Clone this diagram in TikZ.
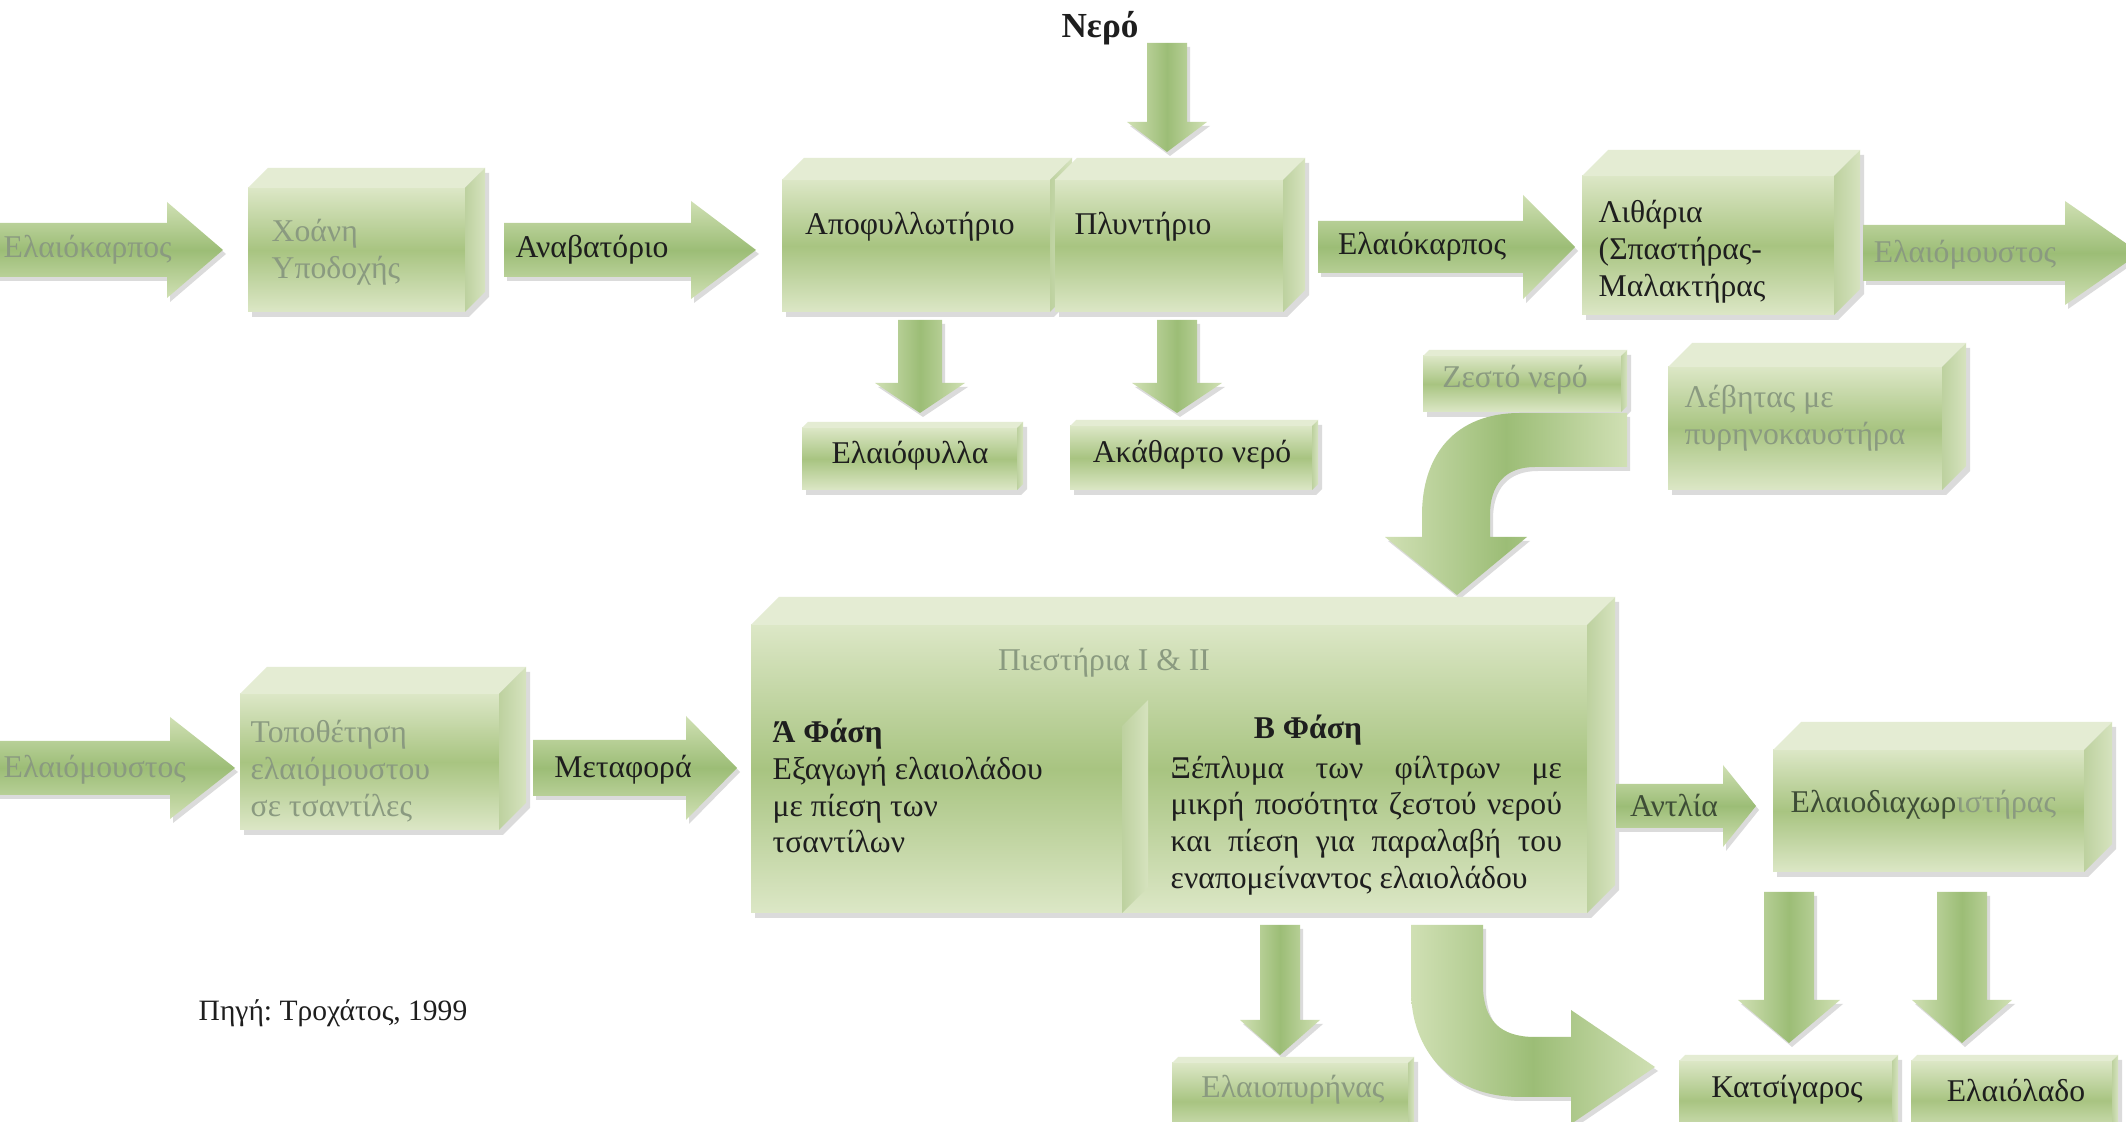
\documentclass[tikz,border=0pt]{standalone}
\usepackage{fontspec}
\setmainfont{Liberation Serif}
\frenchspacing
\definecolor{txtdark}{HTML}{1E1E1E}
\definecolor{txtfade}{HTML}{8A9A80}
\definecolor{txtmid}{HTML}{3E4D36}
\definecolor{gLight}{HTML}{DCE7C6}
\definecolor{gMid}{HTML}{A8C481}
\definecolor{gTop}{HTML}{E4ECD3}
\definecolor{gSide}{HTML}{BDD19F}
\definecolor{aLight}{HTML}{D0E0B4}
\definecolor{aMid}{HTML}{9CBD76}
\newcommand\lblsize{\fontsize{9pt}{10.5pt}\selectfont}
\newcommand\jline[1]{\hbox to 3.91cm{#1}}
\tikzset{
  frontface/.style={top color=gLight, bottom color=gLight, middle color=gMid},
  topface/.style={fill=gTop},
  sideface/.style={left color=gSide, right color=gLight!80!gSide},
  harrowfill/.style={top color=aLight, bottom color=aLight, middle color=aMid},
  varrowfill/.style={left color=aLight, right color=aLight, middle color=aMid},
  shadowfill/.style={fill=black!14},
  lbl/.style={font=\lblsize, text=txtdark, inner sep=0pt},
  fade/.style={lbl, text=txtfade},
}
% horizontal block arrow: x0, xh, x1, yc, shaft half, head half
\newcommand\hblk[6]{%
  \begin{scope}[shift={(3,4)}]
    \fill[shadowfill] (#1,{#4-#5}) -- (#2,{#4-#5}) -- (#2,{#4-#6}) -- (#3,#4) -- (#2,{#4+#6}) -- (#2,{#4+#5}) -- (#1,{#4+#5}) -- cycle;
  \end{scope}
  \shade[harrowfill] (#1,{#4-#5}) -- (#2,{#4-#5}) -- (#2,{#4-#6}) -- (#3,#4) -- (#2,{#4+#6}) -- (#2,{#4+#5}) -- (#1,{#4+#5}) -- cycle;}
% vertical block arrow: xc, y0, yh, y1, shaft half, head half
\newcommand\vblk[6]{%
  \begin{scope}[shift={(3,4)}]
    \fill[shadowfill] ({#1-#5},#2) -- ({#1+#5},#2) -- ({#1+#5},#3) -- ({#1+#6},#3) -- (#1,#4) -- ({#1-#6},#3) -- ({#1-#5},#3) -- cycle;
  \end{scope}
  \shade[varrowfill] ({#1-#5},#2) -- ({#1+#5},#2) -- ({#1+#5},#3) -- ({#1+#6},#3) -- (#1,#4) -- ({#1-#6},#3) -- ({#1-#5},#3) -- cycle;}
% cube box: x1, y1, x2, y2, depth
\newcommand\cubebox[5]{%
  \begin{scope}[shift={(4,5)}]
    \fill[shadowfill] (#1,{#2+#5}) -- ({#1+#5},#2) -- (#3,#2) -- (#3,{#4-#5}) -- ({#3-#5},#4) -- (#1,#4) -- cycle;
  \end{scope}
  \shade[frontface] (#1,{#2+#5}) rectangle ({#3-#5},#4);
  \fill[topface] (#1,{#2+#5}) -- ({#1+#5},#2) -- (#3,#2) -- ({#3-#5},{#2+#5}) -- cycle;
  \shade[sideface] ({#3-#5},{#2+#5}) -- (#3,#2) -- (#3,{#4-#5}) -- ({#3-#5},#4) -- cycle;}
\begin{document}
\begin{tikzpicture}[x=0.01cm, y=-0.01cm]
\useasboundingbox (0,0) rectangle (2126,1122);
\clip (0,0) rectangle (2126,1122);
\fill[white] (0,0) rectangle (2126,1122);

% ---------- top row ----------
\node[font=\fontsize{10pt}{12pt}\selectfont\bfseries, text=txtdark, inner sep=0pt] (nero) at (1100,28) {Νερό};
\vblk{1167}{43}{122}{152}{20}{40}

\hblk{-20}{167}{223}{250}{27}{48}
\node[fade, anchor=west] (elk1) at (3,250) {Ελαιόκαρπος};

\cubebox{248}{168}{485}{312}{20}
\node[fade, anchor=west, align=left] (xoani) at (271,252) {Χοάνη\\Υποδοχής};

\hblk{504}{691}{756}{250}{27}{49}
\node[lbl] (anab) at (592,250) {Αναβατόριο};

\cubebox{782}{158}{1072}{312}{22}
\cubebox{1055}{158}{1305}{312}{22}
\node[lbl] (apof) at (910,227) {Αποφυλλωτήριο};
\node[lbl] (plyn) at (1143,227) {Πλυντήριο};

\vblk{920}{320}{383}{413}{22}{45}
\vblk{1177}{320}{383}{413}{20}{45}
\cubebox{802}{422}{1023}{490}{6}
\node[lbl] (fyll) at (910,456) {Ελαιόφυλλα};
\cubebox{1070}{420}{1318}{490}{6}
\node[lbl] (akath) at (1192,455) {Ακάθαρτο νερό};

\hblk{1318}{1523}{1575}{247}{26}{52}
\node[lbl] (elk2) at (1422,247) {Ελαιόκαρπος};

\cubebox{1582}{150}{1860}{315}{26}
\node[lbl, anchor=west, align=left] (lith) at (1598,252) {Λιθάρια\\(Σπαστήρας-\\Μαλακτήρας};

\hblk{1863}{2065}{2140}{253}{28}{52}
\node[fade] (elm1) at (1965,255) {Ελαιόμουστος};

\cubebox{1423}{350}{1627}{412}{6}
\node[fade] (zesto) at (1515,380) {Ζεστό νερό};
\begin{scope}[shift={(3,4)}]
\fill[shadowfill] (1627,413) -- (1520,413) .. controls (1455,413) and (1422,455) .. (1422,515) -- (1422,537) -- (1385,537) -- (1457,595) -- (1527,537) -- (1490,537) -- (1490,515) .. controls (1490,485) and (1505,467) .. (1535,467) -- (1627,467) -- cycle;
\end{scope}
\shade[varrowfill] (1627,413) -- (1520,413) .. controls (1455,413) and (1422,455) .. (1422,515) -- (1422,537) -- (1385,537) -- (1457,595) -- (1527,537) -- (1490,537) -- (1490,515) .. controls (1490,485) and (1505,467) .. (1535,467) -- (1627,467) -- cycle;

\cubebox{1668}{343}{1966}{490}{24}
\node[fade, anchor=west, align=left] (lev) at (1684,418) {Λέβητας με\\πυρηνοκαυστήρα};

% ---------- middle row ----------
\hblk{-20}{170}{235}{768}{27}{51}
\node[fade, anchor=west] (elm2) at (3,770) {Ελαιόμουστος};

\cubebox{240}{667}{526}{830}{27}
\node[fade, anchor=west, align=left] (topo) at (250,771) {Τοποθέτηση\\ελαιόμουστου\\σε τσαντίλες};

\hblk{533}{686}{737}{768}{28}{52}
\node[lbl] (metaf) at (623,770) {Μεταφορά};

\cubebox{751}{597}{1615}{913}{28}
\shade[sideface] (1122,726) -- (1148,700) -- (1148,887) -- (1122,913) -- cycle;
\node[fade] (piest) at (1104,663) {Πιεστήρια I \& II};
\node[lbl, anchor=north west, align=left] (afasi) at (772,718) {\textbf{Ά Φάση}\\Εξαγωγή ελαιολάδου\\με πίεση των\\τσαντίλων};
\node[lbl, font=\lblsize\bfseries] (bfasi) at (1308,730) {Β Φάση};
\node[lbl, anchor=north west, align=left] (btext) at (1170,755) {\jline{Ξέπλυμα\hfill των\hfill φίλτρων\hfill με}\\\jline{μικρή\hfill ποσότητα\hfill ζεστού\hfill νερού}\\\jline{και\hfill πίεση\hfill για\hfill παραλαβή\hfill του}\\εναπομείναντος ελαιολάδου};

\hblk{1616}{1723}{1756}{806}{22}{41}
\node[lbl, text=txtmid] (antl) at (1674,806) {Αντλία};

\cubebox{1773}{722}{2112}{872}{28}
\node[lbl, anchor=west] (diax) at (1790,805) {\textcolor{txtmid}{Ελαιοδιαχωρ}\textcolor{txtfade}{ιστήρας}};

% ---------- bottom row ----------
\vblk{1280}{925}{1020}{1055}{20}{40}
\cubebox{1172}{1057}{1414}{1140}{6}
\node[fade] (pyr) at (1293,1090) {Ελαιοπυρήνας};

\begin{scope}[shift={(3,4)}]
\fill[shadowfill] (1411,925) -- (1483,925) -- (1483,985) .. controls (1483,1020) and (1500,1037) .. (1535,1037) -- (1571,1037) -- (1571,1010) -- (1655,1067) -- (1571,1124) -- (1571,1097) -- (1520,1097) .. controls (1450,1097) and (1411,1050) .. (1411,990) -- cycle;
\end{scope}
\shade[varrowfill] (1411,925) -- (1483,925) -- (1483,985) .. controls (1483,1020) and (1500,1037) .. (1535,1037) -- (1571,1037) -- (1571,1010) -- (1655,1067) -- (1571,1124) -- (1571,1097) -- (1520,1097) .. controls (1450,1097) and (1411,1050) .. (1411,990) -- cycle;

\vblk{1789}{892}{1000}{1043}{25}{51}
\vblk{1962}{892}{1000}{1043}{25}{50}
\cubebox{1679}{1055}{1898}{1140}{6}
\node[lbl] (kats) at (1787,1090) {Κατσίγαρος};
\cubebox{1911}{1055}{2118}{1140}{6}
\node[lbl] (elad) at (2016,1090) {Ελαιόλαδο};

\node[lbl, font=\fontsize{8.4pt}{10pt}\selectfont, anchor=west] (pigi) at (198,1013) {Πηγή: Τροχάτος, 1999};
\end{tikzpicture}
\end{document}
